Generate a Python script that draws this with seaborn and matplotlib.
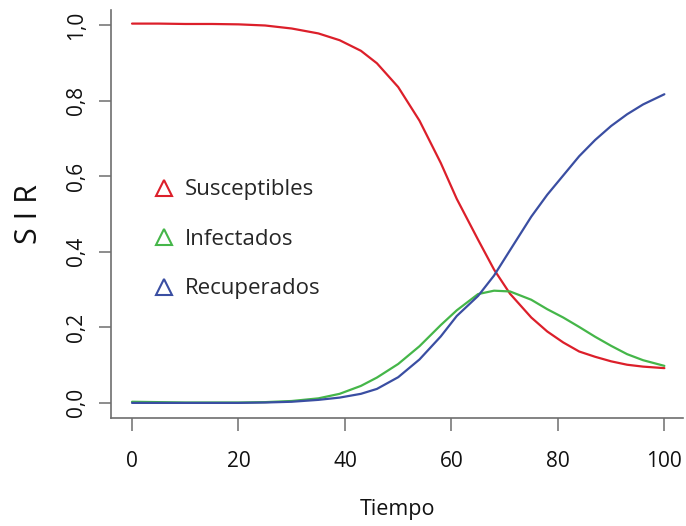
import numpy as np
import pandas as pd
import matplotlib
matplotlib.use('Agg')
import matplotlib.pyplot as plt
import seaborn as sns
from matplotlib.lines import Line2D
from matplotlib.ticker import FuncFormatter

# valores
tiempo = [0, 5, 10, 15, 20, 25, 30, 35, 39, 43, 46, 50, 54, 58, 61, 65, 68, 71,
          75, 78, 81, 84, 87, 90, 93, 96, 100]
susceptibles = [1.004, 1.004, 1.003, 1.003, 1.002, 0.999, 0.991, 0.978, 0.960, 0.932,
                0.899, 0.836, 0.747, 0.635, 0.540, 0.432, 0.353, 0.289, 0.226, 0.189,
                0.160, 0.136, 0.122, 0.110, 0.101, 0.096, 0.092]
infectados = [0.003, 0.002, 0.001, 0.001, 0.001, 0.002, 0.005, 0.012, 0.024, 0.045,
              0.067, 0.103, 0.150, 0.206, 0.245, 0.288, 0.297, 0.295, 0.273, 0.248,
              0.226, 0.201, 0.175, 0.151, 0.129, 0.113, 0.098]
recuperados = [0.000, 0.000, 0.000, 0.000, 0.000, 0.001, 0.003, 0.008, 0.014, 0.024,
               0.037, 0.068, 0.115, 0.176, 0.230, 0.283, 0.337, 0.404, 0.493, 0.551,
               0.602, 0.653, 0.696, 0.733, 0.764, 0.790, 0.817]

nombres = ['Susceptibles', 'Infectados', 'Recuperados']
colores = ['#DC1F2A', '#45B649', '#3A4EA2']

df = pd.DataFrame({'Tiempo': tiempo * 3,
                   'valor': susceptibles + infectados + recuperados,
                   'grupo': [n for n in nombres for _ in tiempo]})

sns.set_style('ticks')
plt.rcParams['font.family'] = ['Open Sans', 'DejaVu Sans']

fig = plt.figure(figsize=(6.86, 5.26), dpi=100)
ax = fig.add_axes([111/686, 1-418/526, 572/686, 408/526])

sns.lineplot(data=df, x='Tiempo', y='valor', hue='grupo', palette=colores,
             linewidth=1.6, ax=ax, legend=False)

ax.set_xlim(-3.95, 103.5)
ax.set_ylim(-0.04, 1.04)
ax.set_xticks([0, 20, 40, 60, 80, 100])
ax.set_yticks([0, 0.2, 0.4, 0.6, 0.8, 1.0])
ax.yaxis.set_major_formatter(FuncFormatter(lambda v, p: f'{v:.1f}'.replace('.', ',')))

for lado in ['top', 'right']:
    ax.spines[lado].set_visible(False)
for lado in ['left', 'bottom']:
    ax.spines[lado].set_color('#6e6e6e')
    ax.spines[lado].set_linewidth(1.2)

ax.tick_params(axis='both', direction='out', length=9, width=1.1, color='#6e6e6e',
               labelsize=15, labelcolor='#111111', bottom=True, left=True)
ax.tick_params(axis='x', pad=15)
ax.tick_params(axis='y', pad=8)
for t in ax.get_yticklabels():
    t.set_rotation(90)
    t.set_va('center')

ax.set_xlabel('Tiempo', fontsize=15.5, labelpad=19, color='#111111')
ax.set_ylabel('S I R', fontsize=22, labelpad=16, color='#111111')

manijas = [Line2D([], [], linestyle='none', marker='^', markersize=11,
                  markerfacecolor='none', markeredgecolor=c, markeredgewidth=1.5)
           for c in colores]
ax.legend(manijas, nombres, loc='upper left', bbox_to_anchor=(0.054, 0.612),
          frameon=False, fontsize=16, handlelength=1.0, handletextpad=0.42,
          labelspacing=1.28, borderpad=0)

plt.savefig('out.png', dpi=100)
